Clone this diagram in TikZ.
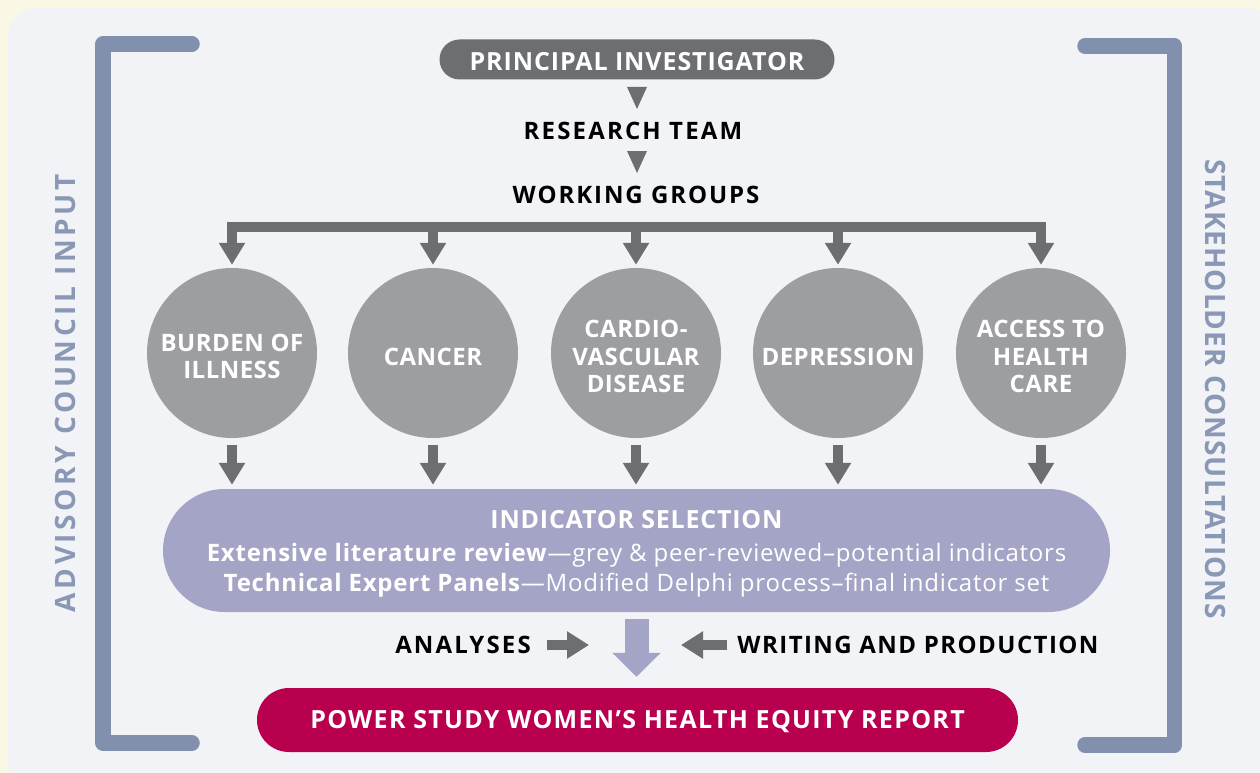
\documentclass[tikz,border=0pt]{standalone}
\usepackage{fontspec}
\setmainfont{Open Sans}
\usetikzlibrary{arrows.meta,calc}
\definecolor{cream}{RGB}{250,247,228}
\definecolor{panel}{RGB}{242,243,247}
\definecolor{bracket}{RGB}{129,144,173}
\definecolor{sidetext}{RGB}{138,152,181}
\definecolor{darkgrey}{RGB}{109,110,113}
\definecolor{circlegrey}{RGB}{157,158,162}
\definecolor{lilac}{RGB}{164,165,198}
\definecolor{crimson}{RGB}{184,0,78}

\tikzset{
  bracketline/.style={bracket, line width=15.5pt, line cap=round, line join=round},
  sidelabel/.style={sidetext, inner sep=0pt, font=\bfseries\fontsize{28}{30}\selectfont\addfontfeatures{LetterSpace=#1}},
  pill/.style={rounded corners=#1, inner sep=0pt},
  pilltext/.style={inner sep=0pt, text=white, font=\bfseries\fontsize{25}{27}\selectfont\addfontfeatures{LetterSpace=#1}},
  heading/.style={inner sep=0pt, text=black, font=\bfseries\fontsize{24}{26}\selectfont\addfontfeatures{LetterSpace=#1}},
  heading/.default=8,
  group/.style={circle, fill=circlegrey, minimum size=170pt, inner sep=0pt},
  grouplabel/.style={inner sep=0pt, align=center, text=white,
    font=\bfseries\fontsize{24}{27.5}\selectfont\addfontfeatures{LetterSpace=2}},
  grparrow/.style={darkgrey, line width=10pt, -{Triangle[length=22pt,width=25pt]}},
  sidearrow/.style={darkgrey, line width=10pt, -{Triangle[length=22pt,width=26pt]}},
  bigarrow/.style={lilac, line width=24pt, -{Triangle[length=24pt,width=47pt]}}
}

\begin{document}
\begin{tikzpicture}[x=1pt,y=-1pt]
  \def\cy{353};
  \def\bary{227};
  \useasboundingbox (0,0) rectangle (1260,773);
  \fill[cream] (0,0) rectangle (1260,773);
  \fill[panel, rounded corners=28pt] (8,8) rectangle (1275,790);
  % side brackets
  \draw[bracketline] (192,44)--(103,44)--(103,743)--(192,743);
  \draw[bracketline] (1085,46)--(1174.5,46)--(1174.5,745)--(1085,745);
  \node[sidelabel=13, rotate=90] (advisory) at (65,393) {ADVISORY COUNCIL INPUT};
  \node[sidelabel=3.6, rotate=-90] (stakeholder) at (1215,389) {STAKEHOLDER CONSULTATIONS};
  % top of the chain
  \node[pill=20pt, fill=darkgrey, minimum width=395pt, minimum height=40pt] (pi) at (637,59.5) {};
  \node[pilltext=3.6, yshift=-2pt] (pitext) at (pi) {PRINCIPAL INVESTIGATOR};
  \node[heading=9] (team) at (633,131) {RESEARCH TEAM};
  \node[heading=8] (groups) at (636,195) {WORKING GROUPS};
  \fill[darkgrey] (627,87)--++(20,0)--++(-10,22)--cycle;
  \fill[darkgrey] (627,151)--++(20,0)--++(-10,22)--cycle;
  % working groups
  \foreach \x/\nm/\txt in {232/burden/{BURDEN OF\\ILLNESS}, 433/cancer/{CANCER},
      636/cvd/{CARDIO-\\VASCULAR\\DISEASE}, 838/depression/{DEPRESSION}, 1041/access/{ACCESS TO\\HEALTH\\CARE}}{
    \node[group] (\nm) at (\x,\cy) {};
    \node[grouplabel, yshift=-3.5pt] at (\nm) {\txt};
  }
  \node[pill=61.5pt, fill=lilac, minimum width=947pt, minimum height=123pt] (indicator) at (636.5,550.5) {};
  \node[inner sep=0pt, align=center, text=white, yshift=-3.5pt,
    font=\fontsize{24}{30}\selectfont\addfontfeatures{LetterSpace=3.2}] (indtext) at (indicator)
    {{\bfseries\fontsize{25}{30}\selectfont INDICATOR SELECTION}\\[3pt]
     \textbf{Extensive literature review}—grey \& peer-reviewed–potential indicators\\
     \textbf{Technical Expert Panels}—Modified Delphi process–final indicator set};
  \coordinate (bar) at (636,\bary);
  \draw[darkgrey, line width=10pt] ([xshift=-5pt]burden |- bar)--([xshift=5pt]access |- bar);
  \foreach \nm in {burden,cancer,cvd,depression,access}{
    \draw[grparrow, shorten >=3pt] (\nm |- bar)--(\nm.north);
    \draw[grparrow, shorten <=7pt, shorten >=4pt] (\nm.south)--(\nm |- indicator.north);
  }
  % bottom
  \node[pill=32pt, fill=crimson, minimum width=761pt, minimum height=64pt] (report) at (637.5,720) {};
  \node[pilltext=5.2, yshift=-1.5pt] (reporttext) at (report) {POWER STUDY WOMEN’S HEALTH EQUITY REPORT};
  \node[heading=9] (analyses) at (463,645) {ANALYSES};
  \node[heading=6] (writing) at (918,645) {WRITING AND PRODUCTION};
  \coordinate (merge) at (636,645);
  \draw[bigarrow, shorten <=7pt, shorten >=11pt] (indicator.south)--(indicator.south |- report.north);
  \draw[sidearrow, shorten <=16pt, shorten >=47pt] (analyses.east)--(merge);
  \draw[sidearrow, shorten <=10pt, shorten >=45pt] (writing.west)--(merge);
\end{tikzpicture}
\end{document}
